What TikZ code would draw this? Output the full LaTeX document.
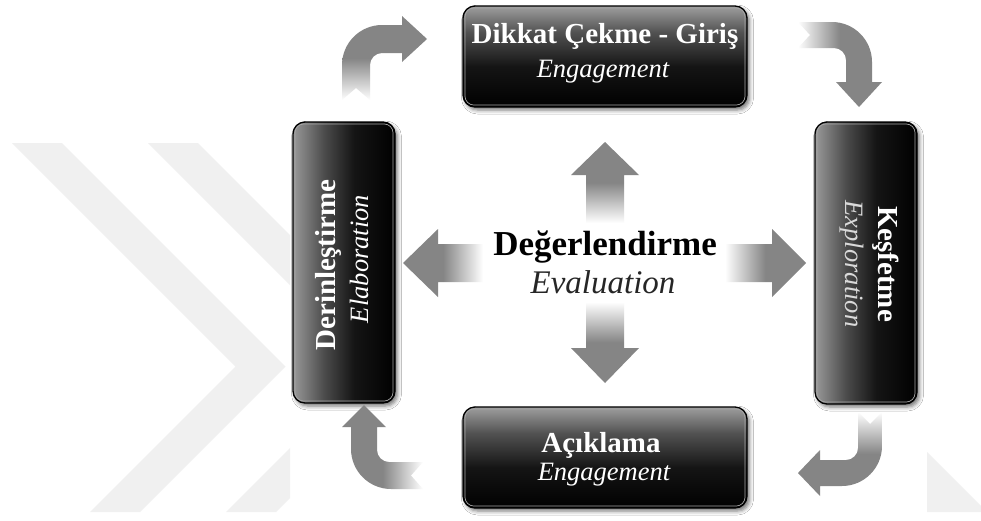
\documentclass[tikz,border=0pt]{standalone}
\usepackage{fontspec}
\setmainfont{Liberation Serif}
\usetikzlibrary{shadows.blur}
\definecolor{arrowgray}{gray}{0.52}
\definecolor{wmgray}{gray}{0.94}
\pgfdeclareverticalshading{arrowfade}{100bp}{color(0bp)=(white); color(25bp)=(white); color(50bp)=(arrowgray); color(100bp)=(arrowgray)}
\pgfdeclareverticalshading{boxv}{100bp}{color(0bp)=(black); color(25bp)=(black); color(45bp)=(black!92); color(62bp)=(black!68); color(75bp)=(black!38); color(100bp)=(black!38)}
\pgfdeclarehorizontalshading{boxh}{100bp}{color(0bp)=(black!40); color(25bp)=(black!40); color(40bp)=(black!70); color(55bp)=(black!92); color(75bp)=(black); color(100bp)=(black)}
\tikzset{
  box/.style={rounded corners=12pt, draw=black, line width=1.3pt,
    blur shadow={shadow xshift=2.5pt, shadow yshift=-3pt, shadow blur radius=4pt, shadow opacity=55}},
  rim/.style={rounded corners=9pt, draw=white!65!black, line width=0.7pt},
  blockarrow/.style={shading=arrowfade},
  boldlbl/.style={font=\fontsize{29}{34}\selectfont\bfseries, text=white, inner sep=0pt},
  itallbl/.style={font=\fontsize{26.5}{30}\selectfont\itshape, text=white, inner sep=0pt},
  watermark/.style={fill=wmgray}
}
\begin{document}
\begin{tikzpicture}[x=1pt,y=-1pt]
\useasboundingbox (0,0) rectangle (981,520);
\fill[white] (0,0) rectangle (981,520);
% watermark
\begin{scope}
  \clip (0,0) rectangle (290,520);
  \fill[watermark] (12,143) -- (62,143) -- (285.5,366.5) -- (140,512) -- (90,512) -- (235.5,366.5) -- cycle;
  \fill[watermark] (148,143) -- (198,143) -- (421.5,366.5) -- (276,512) -- (226,512) -- (371.5,366.5) -- cycle;
\end{scope}
\fill[watermark] (927,452) -- (981,506) -- (981,512) -- (927,512) -- cycle;

% boxes
\node[box, shading=boxv, minimum width=284pt, minimum height=101pt] (engage) at (605,56.5) {};
\node[box, shading=boxv, minimum width=284pt, minimum height=101pt] (explain) at (605,457.5) {};
\node[box, shading=boxh, minimum width=102pt, minimum height=281pt] (elab) at (344,262.5) {};
\node[box, shading=boxh, minimum width=102pt, minimum height=282pt] (explore) at (866,263) {};
\foreach \b in {engage,explain,elab,explore}{
  \draw[rim] ([xshift=2.6pt,yshift=-2.6pt]\b.north west) rectangle ([xshift=-2.6pt,yshift=2.6pt]\b.south east);
}

% box texts
\node[boldlbl, anchor=base] (engageA) at (605,43) {Dikkat Çekme - Giriş};
\node[itallbl, anchor=base] (engageB) at (603,77) {Engagement};
\node[boldlbl, anchor=base] (explainA) at (601,452) {Açıklama};
\node[itallbl, anchor=base] (explainB) at (604,480) {Engagement};
\node[boldlbl, anchor=base, rotate=90] (elabA) at (335,265) {Derinleştirme};
\node[itallbl, anchor=base, rotate=90] (elabB) at (368,259) {Elaboration};
\node[boldlbl, anchor=base, rotate=-90] (exploreA) at (878,264) {Keşfetme};
\node[itallbl, anchor=base, rotate=-90, text=white!85!black] (exploreB) at (845,264) {Exploration};

% centre arrows
\shade[blockarrow] (586,223) -- (586,175) -- (571,175) -- (605,142) -- (639,175) -- (624,175) -- (624,223) -- cycle;
\shade[blockarrow, shading angle=180] (586,302) -- (586,348) -- (571,348) -- (605,383) -- (639,348) -- (624,348) -- (624,302) -- cycle;
\shade[blockarrow, shading angle=90] (483,244) -- (438,244) -- (438,229) -- (403,263) -- (438,297) -- (438,282) -- (483,282) -- cycle;
\shade[blockarrow, shading angle=-90] (725,244) -- (772,244) -- (772,229) -- (806,263) -- (772,297) -- (772,282) -- (725,282) -- cycle;

% centre text
\node[font=\fontsize{35}{40}\selectfont\bfseries, inner sep=0pt, anchor=base] (evalA) at (605,255) {Değerlendirme};
\node[font=\fontsize{33}{38}\selectfont\itshape, text=black!85, inner sep=0pt, anchor=base] (evalB) at (603,293) {Evaluation};

% corner arrows
\shade[blockarrow] (342,100) -- (342,65) .. controls (342,43) and (360,25) .. (382,25) -- (402,25) -- (402,16) -- (427,39) -- (402,62) -- (402,53) -- (382,53) .. controls (375.4,53) and (370,58.4) .. (370,65) -- (370,100) -- (356,88) -- cycle;
\shade[blockarrow, shading angle=-90] (798,22) -- (832,22) .. controls (854,22) and (872,40) .. (872,62) -- (872,82) -- (882,82) -- (859,107) -- (836,82) -- (846,82) -- (846,60) .. controls (846,53.4) and (840.6,48) .. (834,48) -- (798,48) -- (810,35) -- cycle;
\shade[blockarrow, shading angle=90] (364,405) -- (386,427) -- (377,427) -- (377,450) .. controls (377,456.6) and (382.4,462) .. (389,462) -- (423,462) -- (411,475.5) -- (423,489) -- (391,489) .. controls (369,489) and (351,471) .. (351,449) -- (351,427) -- (342,427) -- cycle;
\shade[blockarrow, shading angle=180] (858,412) -- (870,424) -- (882,412) -- (882,446) .. controls (882,468) and (864,486) .. (842,486) -- (820,486) -- (820,496) -- (798,473) -- (820,450) -- (820,460) -- (846,460) .. controls (852.6,460) and (858,454.6) .. (858,448) -- cycle;
\end{tikzpicture}
\end{document}
